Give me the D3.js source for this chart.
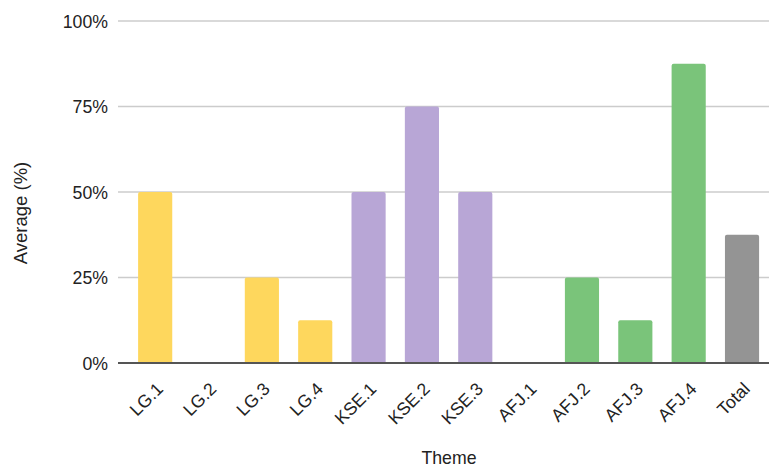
<!DOCTYPE html>
<html>
<head>
<meta charset="utf-8">
<script src="https://cdn.jsdelivr.net/npm/d3@7"></script>
<style>
  body { margin: 0; background: #fff; }
  text { font-family: "Liberation Sans", Arial, sans-serif; fill: #222; }
</style>
</head>
<body>
<div id="chart"></div>
<script>
const themes = ['LG.1', 'LG.2', 'LG.3', 'LG.4', 'KSE.1', 'KSE.2', 'KSE.3', 'AFJ.1', 'AFJ.2', 'AFJ.3', 'AFJ.4', 'Total'];
const averages = [50, 0, 25, 12.5, 50, 75, 50, 0, 25, 12.5, 87.5, 37.5];
const groups = ['LG', 'LG', 'LG', 'LG', 'KSE', 'KSE', 'KSE', 'AFJ', 'AFJ', 'AFJ', 'AFJ', 'Total'];
const yTicks = [0, 25, 50, 75, 100];
const groupColors = { LG: '#fed75d', KSE: '#b8a6d6', AFJ: '#7ac47a', Total: '#949494' };

const width = 771;
const height = 469;
const margin = { top: 21, right: 2, bottom: 106, left: 118 };
const fontSize = '17.7px';

const svg = d3.select('#chart')
  .append('svg')
  .attr('width', width)
  .attr('height', height);

const x = d3.scaleBand()
  .domain(themes)
  .range([128.5, 768.7])
  .paddingInner(0.36)
  .paddingOuter(0.18);

const y = d3.scaleLinear()
  .domain([0, 100])
  .range([height - margin.bottom, margin.top]);

// gridlines + tick labels
const yAxis = svg.append('g');
yAxis.selectAll('line')
  .data(yTicks.filter(d => d > 0))
  .enter()
  .append('line')
  .attr('x1', margin.left)
  .attr('x2', width - margin.right)
  .attr('y1', d => y(d))
  .attr('y2', d => y(d))
  .attr('stroke', '#cccccc')
  .attr('stroke-width', 1.5);

yAxis.selectAll('text')
  .data(yTicks)
  .enter()
  .append('text')
  .attr('x', margin.left - 10)
  .attr('y', d => y(d))
  .attr('dy', '0.38em')
  .attr('text-anchor', 'end')
  .style('font-size', fontSize)
  .text(d => d + '%');

// bars with rounded tops
const bars = themes.map((t, i) => ({ theme: t, value: averages[i], group: groups[i] }));
const r = 2;

svg.selectAll('.bar')
  .data(bars.filter(d => d.value > 0))
  .enter()
  .append('path')
  .attr('class', 'bar')
  .attr('fill', d => groupColors[d.group])
  .attr('d', d => {
    const x0 = x(d.theme), x1 = x0 + x.bandwidth();
    const y0 = y(0), y1 = y(d.value);
    return `M${x0},${y0}V${y1 + r}Q${x0},${y1} ${x0 + r},${y1}H${x1 - r}Q${x1},${y1} ${x1},${y1 + r}V${y0}Z`;
  });

// baseline
svg.append('line')
  .attr('x1', margin.left)
  .attr('x2', width - margin.right)
  .attr('y1', y(0))
  .attr('y2', y(0))
  .attr('stroke', '#555555')
  .attr('stroke-width', 2);

// x labels, rotated
svg.selectAll('.xlabel')
  .data(themes)
  .enter()
  .append('text')
  .attr('class', 'xlabel')
  .attr('text-anchor', 'end')
  .style('font-size', fontSize)
  .attr('transform', d => `translate(${x(d) + x.bandwidth() / 2 + 9},${y(0) + 27}) rotate(-45)`)
  .text(d => d);

// axis titles
svg.append('text')
  .attr('text-anchor', 'middle')
  .style('font-size', '18.5px')
  .attr('transform', `translate(27,213) rotate(-90)`)
  .text('Average (%)');

svg.append('text')
  .attr('x', 449)
  .attr('y', 464)
  .attr('text-anchor', 'middle')
  .style('font-size', fontSize)
  .text('Theme');
</script>
</body>
</html>
